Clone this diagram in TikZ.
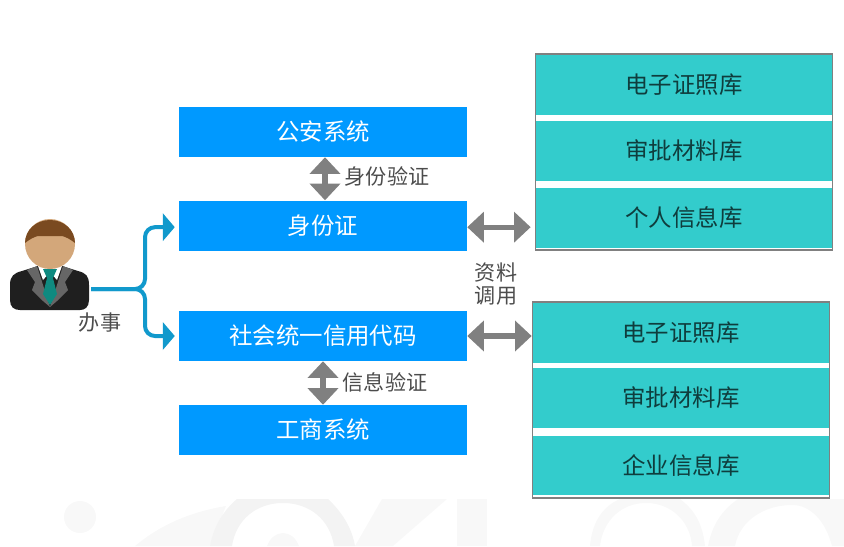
\documentclass[tikz,border=0pt]{standalone}
\usepackage{fontspec}
\setmainfont{Noto Sans CJK SC}
\usetikzlibrary{arrows.meta}
\definecolor{sysblue}{HTML}{0099FF}
\definecolor{libteal}{HTML}{33CCCC}
\definecolor{flowblue}{HTML}{1199CC}
\definecolor{markgray}{HTML}{F8F8F8}
\definecolor{ringgray}{HTML}{F3F3F3}
\definecolor{skin}{HTML}{D3A77A}
\definecolor{hair}{HTML}{7A4A20}
\definecolor{tie}{HTML}{0F8A80}
\tikzset{
    sysbox/.style={fill=sysblue, text=white, minimum width=8.64cm, minimum height=1.5cm, inner sep=0pt, font=\fontsize{20}{20}\selectfont},
    librow/.style={fill=libteal, text=black!70!libteal, minimum width=8.9cm, minimum height=1.78cm, inner sep=0pt, font=\fontsize{20}{20}\selectfont},
    libframe/.style={draw=gray, line width=0.04cm, fill=white, minimum width=8.92cm, minimum height=5.88cm, inner sep=0pt},
    tag/.style={text=black!70, inner sep=0pt, font=\fontsize{18}{18}\selectfont},
    swap/.style={draw=gray, line width=0.16cm, {Triangle[length=0.5cm,width=0.9cm]}-{Triangle[length=0.5cm,width=0.9cm]}},
    flow/.style={draw=flowblue, line width=0.12cm, rounded corners=0.3cm, -{Triangle[length=0.36cm,width=0.82cm]}}
}
\begin{document}
\begin{tikzpicture}[x=0.03cm,y=-0.03cm]
    \useasboundingbox (0,0) rectangle (844,546);

    \fill[markgray] (80,517) circle (16);
    \fill[markgray] (135,546) .. controls (160,525) and (190,512) .. (226,506) -- (210,546) -- cycle;
    \fill[ringgray] (210,546) .. controls (214,525) and (224,510) .. (237,499) -- (328,499) .. controls (342,512) and (352,528) .. (355,546) -- (334,546) .. controls (330,520) and (310,503) .. (283,503) .. controls (256,503) and (236,520) .. (232,546) -- cycle;
    \fill[markgray] (267,546) .. controls (270,538) and (276,533) .. (283,533) .. controls (290,533) and (296,538) .. (299,546) -- cycle;
    \fill[markgray] (355,546) -- (382,499) -- (447,499) -- (393,546) -- cycle;
    \fill[markgray] (457,499) rectangle (487,546);
    \fill[markgray] (590,546) .. controls (592,520) and (605,505) .. (620,499) -- (680,499) .. controls (695,510) and (703,525) .. (705,546) -- (692,546) .. controls (690,520) and (670,503) .. (646,503) .. controls (622,503) and (603,520) .. (600,546) -- cycle;
    \fill[markgray] (708,546) .. controls (712,525) and (722,510) .. (738,499) -- (844,499) -- (844,546) -- (832,546) .. controls (825,520) and (810,505) .. (792,505) .. controls (765,505) and (740,520) .. (735,546) -- cycle;

    \node[sysbox] (police) at (323,132) {公安系统};
    \node[sysbox] (idcard) at (323,225.5) {身份证};
    \node[sysbox] (creditcode) at (323,336) {社会统一信用代码};
    \node[sysbox] (business) at (323,430) {工商系统};

    \node[libframe] (libA) at (684,152) {};
    \node[librow] (libAa) at (684,85) {电子证照库};
    \node[librow] (libAb) at (684,151) {审批材料库};
    \node[librow] (libAc) at (684,218) {个人信息库};

    \node[libframe] (libB) at (681,400) {};
    \node[librow] (libBa) at (681,333) {电子证照库};
    \node[librow] (libBb) at (681,398) {审批材料库};
    \node[librow] (libBc) at (681,465.5) {企业信息库};

    \draw[swap] ([xshift=0.06cm]police.south) -- ([xshift=0.06cm]idcard.north);
    \draw[swap] (creditcode.south) -- (business.north);
    \coordinate (linkA) at ([yshift=-0.05cm]idcard.east);
    \draw[swap] (linkA) -- ([xshift=-0.12cm]linkA -| libA.west);
    \draw[swap] (creditcode.east) -- (creditcode.east -| libB.west);

    \node[tag] (checkA) at (387,176) {身份验证};
    \node[tag] (checkB) at (385,382) {信息验证};
    \node[tag] (fetchA) at (496,272) {资料};
    \node[tag] (fetchB) at (496,296) {调用};
    \node[tag] (handle) at (100,323) {办事};

    \fill[black!88] (10,300) -- (10,285) .. controls (10,276) and (14,273) .. (22,271) -- (38,266) -- (62,266) -- (78,271) .. controls (86,273) and (89,276) .. (89,285) -- (89,300) .. controls (89,307) and (85,310) .. (80,310) -- (20,310) .. controls (14,310) and (10,307) .. (10,300) -- cycle;
    \fill[black!60] (27,270) -- (37,266) -- (50,307) -- (43,301) -- (32,290) -- (35,282) -- cycle;
    \fill[black!60] (73,270) -- (63,266) -- (50,307) -- (57,301) -- (68,290) -- (65,282) -- cycle;
    \fill[white] (38,266) -- (62,266) -- (57,280) -- (50,272) -- (43,280) -- cycle;
    \fill[tie] (43,269) -- (57,269) -- (53,278) -- (57,294) -- (50,305) -- (43,294) -- (47,278) -- cycle;
    \fill[skin] (50,244) circle (25);
    \fill[hair] (25,243) .. controls (25,230) and (36,220) .. (50,220) .. controls (64,220) and (75,230) .. (75,243) .. controls (70,239) and (66,237) .. (62,236) -- (38,236) .. controls (34,237) and (30,239) .. (25,243) -- cycle;

    \coordinate (hand) at (91,289);
    \coordinate (branch) at (145,289);
    \draw[flow] (hand) -- (branch) |- ([xshift=-0.12cm]linkA -| idcard.west);
    \draw[flow] (hand) -- (branch) |- ([xshift=-0.12cm]creditcode.west);
\end{tikzpicture}
\end{document}
